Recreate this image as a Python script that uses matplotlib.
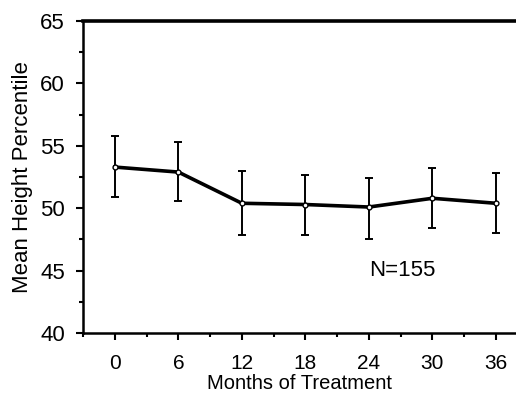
import matplotlib
matplotlib.use("Agg")
import matplotlib.pyplot as plt
from matplotlib.ticker import MultipleLocator

months = [0, 6, 12, 18, 24, 30, 36]
mean_pct = [53.3, 52.9, 50.4, 50.3, 50.1, 50.8, 50.4]
err_upper = [55.8, 55.3, 53.0, 52.7, 52.4, 53.2, 52.85]
err_lower = [50.9, 50.55, 47.85, 47.85, 47.55, 48.4, 48.0]

plt.rcParams['font.family'] = ['Liberation Sans', 'DejaVu Sans']

fig = plt.figure(figsize=(5.16, 3.97), dpi=100)
ax = fig.add_axes([0.161, 0.161, 0.839, 0.786])

yerr = [[m - l for m, l in zip(mean_pct, err_lower)],
        [u - m for m, u in zip(mean_pct, err_upper)]]
ax.errorbar(months, mean_pct, yerr=yerr, fmt='none', ecolor='black',
            elinewidth=1.4, capsize=3, capthick=1.4, zorder=2)
ax.plot(months, mean_pct, color='black', lw=2.6, zorder=3,
        marker='o', ms=3.5, mfc='white', mec='black', mew=1)

ax.set_xlim(-3.0, 37.9)
ax.set_ylim(40, 65)
ax.set_xticks(months)
ax.set_yticks([40, 45, 50, 55, 60, 65])
ax.xaxis.set_minor_locator(MultipleLocator(3))
ax.yaxis.set_minor_locator(MultipleLocator(2.5))

ax.spines['right'].set_visible(False)
ax.spines['top'].set_linewidth(2.6)
ax.spines['left'].set_linewidth(1.8)
ax.spines['bottom'].set_linewidth(1.8)

ax.tick_params(axis='both', which='major', direction='out', length=5,
               width=1.5, labelsize=16, colors='black')
ax.tick_params(axis='x', which='major', labelsize=15, pad=10)
ax.tick_params(axis='both', which='minor', direction='out', length=3, width=1.5)
ax.tick_params(axis='y', which='major', pad=8)

ax.set_xlabel('Months of Treatment', fontsize=14.5, labelpad=0.5)
ax.set_ylabel('Mean Height Percentile', fontsize=16, labelpad=5)

ax.text(27.2, 45.05, 'N=155', fontsize=16, ha='center', va='center')

fig.savefig('out.png', dpi=100)
